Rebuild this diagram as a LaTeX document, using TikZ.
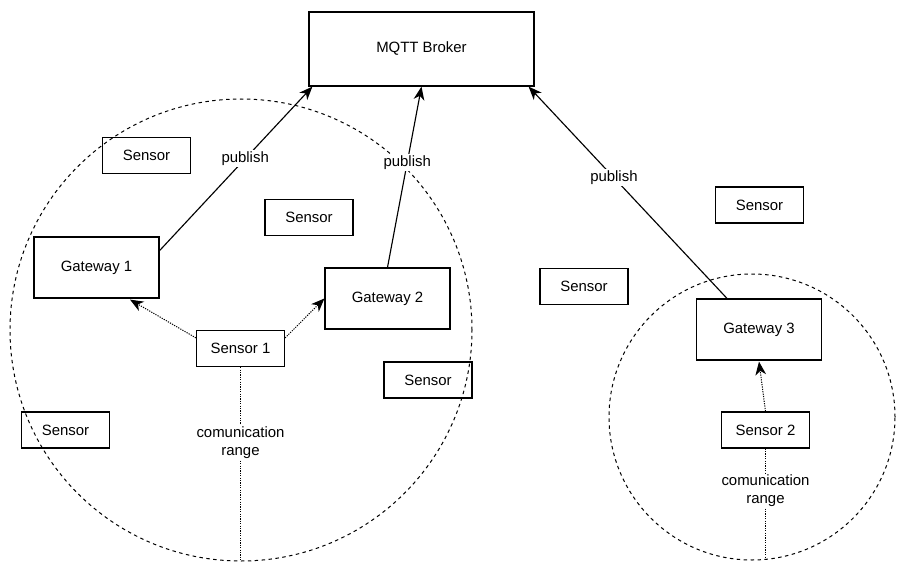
\documentclass[tikz,border=0pt]{standalone}
\usepackage{fontspec}
\setmainfont{Liberation Sans}
\usetikzlibrary{arrows.meta,calc}
\tikzset{
  box/.style    = {draw, line width=0.9pt, inner sep=0pt, font=\fontsize{11.2}{13.5}\selectfont},
  sensor/.style = {box, minimum width=66pt, minimum height=27pt},
  gateway/.style= {box, minimum width=93.75pt, minimum height=45.75pt},
  zone/.style   = {draw, circle, inner sep=0pt, outer sep=0pt, line width=0.75pt,
                   dash pattern=on 2.6pt off 2.6pt},
  headtip/.style= {-{Stealth[length=10pt,width=8pt,inset=3pt]}},
  pub/.style    = {draw, line width=0.85pt, headtip},
  radio/.style  = {draw, line width=0.75pt, dash pattern=on 0.9pt off 0.9pt},
  lbl/.style    = {fill=white, inner sep=1pt, align=center, font=\fontsize{11.2}{13.5}\selectfont}
}
\begin{document}
\begin{tikzpicture}[x=0.75pt,y=-0.75pt]
\useasboundingbox (0,0) rectangle (907,567);
% communication zones
\node[zone, minimum size=346.5pt] (zone1) at (241,330) {};
\node[zone, minimum size=214.5pt] (zone2) at (752,417) {};
% broker and gateways
\node[box, minimum width=168.75pt, minimum height=55.5pt] (broker) at (421.5,49) {MQTT Broker};
\node[gateway] (gw1) at (96.5,267.5) {Gateway 1};
\node[gateway] (gw2) at (387.5,298.5) {Gateway 2};
\node[gateway] (gw3) at (759,329.5) {Gateway 3};
% sensors
\node[sensor] (s1) at (240.5,348.5) {Sensor 1};
\node[sensor] (s2) at (765.5,430) {Sensor 2};
\node[sensor] (sa) at (146.5,155.5) {Sensor};
\node[sensor] (sb) at (309,217.5) {Sensor};
\node[sensor] (sc) at (759.5,205) {Sensor};
\node[sensor] (sd) at (584,286.5) {Sensor};
\node[sensor] (se) at (428,380) {Sensor};
\node[sensor] (sf) at (65.5,430) {Sensor};
% publish links
\draw[pub] (gw1.15) -- node[lbl, pos=0.56] {publish} ($(broker.south west)+(4,0)$);
\draw[pub] (gw2.north) -- node[lbl, pos=0.58] {publish} (broker.south);
\draw[pub] ($(gw3.north)+(-32,0)$) -- node[lbl, pos=0.57] {publish} ($(broker.south east)+(-6,0)$);
% sensor to gateway
\draw[radio, headtip] ($(s1.north west)+(0,8)$) -- ($(gw1.south)+(33.5,1)$);
\draw[radio, headtip] ($(s1.north east)+(0,8)$) -- (gw2.west);
\draw[radio, headtip] (s2.north) -- ($(gw3.south)+(0,1)$);
% range
\draw[radio] (s1.south) -- node[lbl, pos=0.39] {comunication\\range} (s1.south |- zone1.south);
\draw[radio] (s2.south) -- node[lbl, pos=0.38] {comunication\\range} (s2.south |- zone2.south);
\end{tikzpicture}
\end{document}
